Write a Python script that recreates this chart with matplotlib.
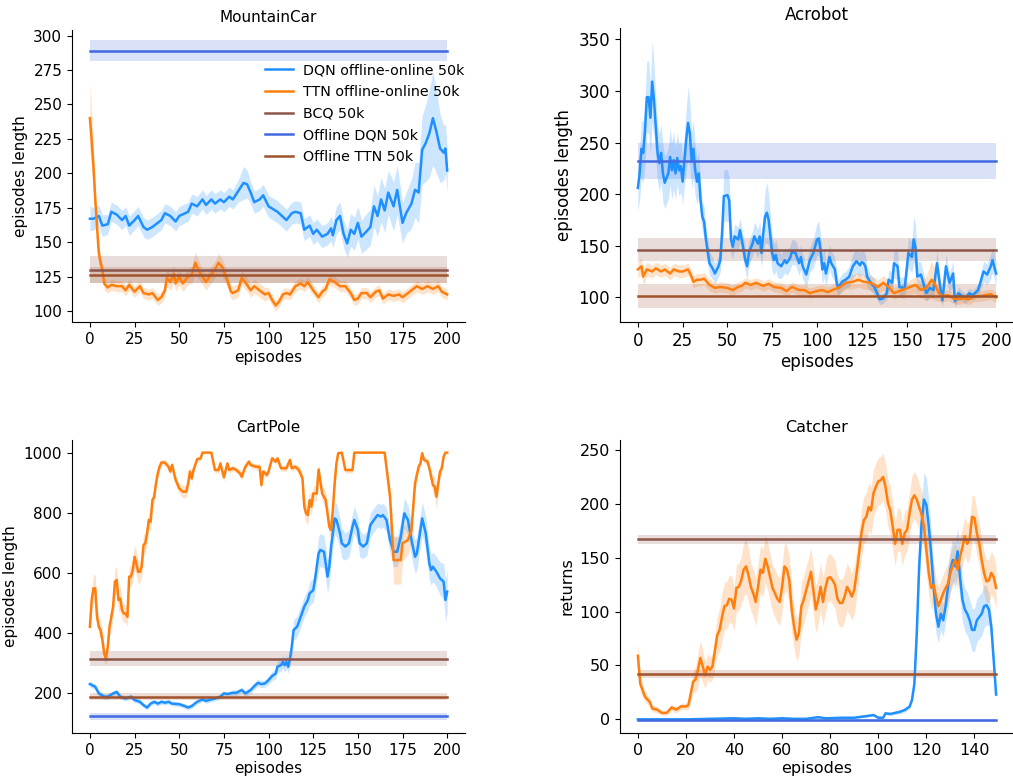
import matplotlib
matplotlib.use('Agg')
import matplotlib.pyplot as plt
import matplotlib.ticker as ticker
import numpy as np

# (episode, mean, spread)
mc_dqn = [(0,167,9),(2,167,8),(5,169,8),(7,162,8),(10,163,7),(12,172,7),(15,170,7),(18,166,7),(20,169,7),(22,162,7),(25,166,7),(27,169,7),(30,161,7),(32,159,7),(35,161,7),(40,166,7),(42,171,7),(45,169,7),(48,165,7),(50,169,7),(55,172,7),(57,178,7),(60,176,7),(63,181,7),(65,177,7),(68,181,7),(70,178,7),(73,181,7),(75,179,7),(78,183,7),(80,181,7),(83,187,8),(86,193,12),(88,192,10),(90,186,8),(92,179,8),(95,181,8),(97,184,8),(100,176,8),(105,172,8),(110,166,8),(113,171,8),(115,172,8),(118,171,8),(120,159,8),(123,162,8),(125,156,8),(127,159,8),(130,154,8),(133,156,8),(135,160,9),(136,155,9),(138,166,10),(140,169,10),(142,156,10),(144,149,10),(146,159,12),(148,156,12),(150,164,12),(152,154,12),(155,158,13),(157,161,13),(159,176,15),(161,169,15),(163,181,16),(165,173,16),(167,186,16),(170,176,18),(172,188,18),(175,164,15),(177,171,15),(180,178,18),(182,188,20),(184,186,22),(186,217,25),(188,222,28),(190,229,32),(192,240,34),(194,230,30),(196,218,25),(198,215,20),(199,218,18),(200,202,16)]
mc_ttn = [(0,240,25),(1,224,20),(2,205,15),(3,181,12),(4,161,10),(5,142,8),(6,135,6),(7,130,5),(8,120,5),(10,117,4),(12,119,4),(15,118,4),(18,118,4),(20,115,4),(22,119,4),(25,114,4),(28,118,4),(30,113,4),(33,112,4),(35,113,4),(38,108,4),(40,110,4),(42,115,5),(43,124,6),(45,121,6),(47,127,6),(48,120,6),(50,125,6),(52,120,6),(55,125,6),(57,126,6),(59,135,8),(60,132,7),(62,127,6),(65,121,6),(67,125,6),(70,130,6),(72,135,7),(74,132,6),(75,129,6),(77,122,5),(79,114,5),(80,113,5),(83,115,5),(85,124,5),(88,119,5),(90,115,5),(92,118,5),(95,115,5),(98,112,5),(100,113,4),(102,108,4),(104,104,4),(106,107,4),(108,112,4),(110,113,4),(112,112,4),(115,118,4),(118,120,4),(120,118,4),(122,121,4),(125,115,4),(128,110,4),(130,114,4),(132,116,4),(134,123,4),(137,121,4),(140,118,4),(143,118,4),(146,113,4),(148,108,4),(150,109,4),(152,113,4),(155,113,4),(157,110,4),(160,114,4),(162,115,4),(164,109,4),(167,112,4),(170,111,4),(173,112,4),(175,110,4),(178,113,4),(180,115,4),(183,118,4),(186,116,4),(189,118,4),(192,116,4),(195,118,4),(197,114,4),(200,112,4)]

ac_dqn = [(0,206,22),(1,220,25),(2,244,28),(3,240,30),(4,262,32),(5,294,35),(6,294,35),(7,274,35),(8,309,40),(9,291,35),(10,265,30),(11,240,28),(12,230,28),(13,240,28),(14,220,28),(15,211,25),(17,220,25),(18,236,28),(19,223,28),(20,233,28),(21,220,25),(22,235,25),(23,223,25),(24,227,25),(25,212,22),(26,233,25),(27,253,30),(28,269,35),(29,259,32),(30,233,28),(31,244,28),(32,223,25),(33,212,22),(34,220,22),(35,194,18),(36,178,15),(37,173,15),(38,156,14),(40,133,12),(42,127,10),(43,123,10),(45,130,10),(46,136,12),(47,162,18),(48,198,25),(50,199,25),(51,194,22),(52,156,15),(53,149,12),(54,159,12),(56,156,12),(57,165,12),(58,156,12),(60,136,12),(61,130,12),(62,143,12),(64,152,12),(65,159,14),(67,152,14),(68,159,14),(69,143,14),(70,162,18),(71,178,25),(72,182,30),(73,175,25),(74,159,20),(75,143,18),(76,136,15),(77,141,15),(78,133,14),(80,130,12),(82,136,12),(83,133,12),(85,138,12),(86,144,12),(88,143,12),(90,133,12),(91,139,12),(92,130,12),(94,122,12),(96,136,12),(98,143,14),(100,156,16),(101,157,16),(102,146,15),(103,127,14),(104,133,14),(105,123,12),(107,139,12),(108,133,12),(110,127,12),(111,114,10),(112,109,8),(114,115,8),(116,117,8),(118,120,10),(120,130,12),(122,135,12),(124,131,12),(125,134,12),(126,133,12),(127,130,12),(128,120,10),(130,114,8),(132,110,8),(134,102,6),(135,98,5),(137,99,5),(139,104,6),(140,117,10),(142,114,10),(143,133,14),(145,130,14),(146,110,10),(149,109,10),(151,143,15),(153,139,15),(154,156,22),(155,148,22),(156,120,15),(158,122,12),(160,110,10),(161,104,8),(163,109,8),(165,107,8),(167,133,12),(169,107,10),(170,97,6),(172,130,12),(174,114,10),(176,123,12),(177,96,6),(179,104,6),(181,101,5),(183,99,5),(185,104,5),(187,102,5),(190,107,6),(193,125,10),(195,122,10),(197,130,12),(198,136,12),(200,123,12)]
ac_ttn = [(0,127,8),(2,130,8),(3,120,8),(5,127,7),(8,125,6),(10,128,6),(13,125,6),(15,127,6),(18,123,6),(20,127,6),(23,125,6),(25,125,6),(28,127,6),(30,120,6),(31,115,6),(33,117,6),(35,117,6),(37,118,6),(40,112,6),(43,109,5),(46,110,5),(50,109,5),(53,107,5),(56,110,5),(58,111,5),(60,114,5),(63,112,5),(66,114,5),(70,111,5),(73,113,5),(76,110,5),(80,109,5),(83,106,5),(86,110,5),(90,107,5),(93,107,5),(96,104,5),(100,106,5),(103,107,5),(106,105,5),(110,108,6),(113,110,6),(116,114,6),(120,115,7),(123,117,7),(126,115,7),(130,114,7),(134,110,7),(137,114,7),(140,110,7),(143,104,6),(146,106,6),(149,108,6),(152,110,7),(155,112,8),(158,107,8),(161,109,12),(164,117,18),(166,112,15),(168,104,8),(170,101,6),(173,102,5),(176,99,5),(179,98,5),(182,99,5),(185,98,5),(188,101,5),(191,101,5),(194,102,5),(197,103,5),(200,100,5)]

cp_dqn = [(0,229,10),(3,220,10),(5,198,10),(8,187,10),(10,187,10),(13,198,8),(15,203,8),(17,187,8),(20,181,8),(23,187,8),(25,176,8),(28,170,8),(30,159,8),(32,151,8),(34,164,8),(36,170,8),(38,164,8),(40,170,8),(42,167,8),(44,170,8),(46,164,8),(50,162,8),(53,156,8),(55,151,8),(57,156,8),(60,170,8),(63,178,8),(65,173,8),(68,178,8),(70,181,8),(73,187,8),(75,198,8),(77,196,8),(80,200,10),(82,200,10),(85,209,10),(87,198,10),(90,209,12),(92,222,12),(94,233,12),(96,229,12),(98,231,12),(100,242,15),(102,256,15),(104,264,18),(105,287,20),(107,292,22),(108,303,22),(109,292,22),(110,303,22),(111,287,22),(112,314,25),(113,353,30),(114,409,35),(116,420,35),(118,453,35),(120,487,35),(122,509,35),(123,531,40),(125,542,40),(126,576,45),(127,620,50),(128,664,55),(129,676,55),(131,670,55),(132,631,55),(133,587,55),(134,620,55),(135,687,55),(136,731,55),(137,781,55),(138,776,55),(140,731,50),(141,698,50),(143,687,45),(145,698,45),(147,753,45),(148,776,45),(150,742,45),(151,698,45),(153,687,40),(155,698,40),(157,759,40),(159,776,40),(161,792,40),(163,787,40),(164,792,40),(166,776,40),(168,709,45),(170,670,50),(172,670,50),(174,720,50),(176,798,50),(178,776,50),(180,709,55),(182,653,55),(183,664,55),(185,742,55),(186,781,55),(188,731,55),(190,631,55),(191,609,50),(192,620,50),(194,603,50),(196,581,55),(198,570,60),(199,509,70),(200,537,70)]
cp_ttn = [(0,420,30),(1,509,40),(2,548,45),(3,548,45),(4,453,35),(5,420,30),(6,409,30),(7,376,30),(8,331,25),(9,314,20),(10,353,25),(11,420,30),(12,453,35),(13,487,40),(14,570,45),(15,576,45),(16,509,40),(17,514,40),(18,476,35),(19,464,30),(20,464,30),(21,453,30),(22,587,35),(23,587,35),(24,609,40),(25,653,40),(26,631,40),(27,603,40),(28,603,35),(29,620,35),(30,692,35),(31,698,35),(32,731,35),(33,776,30),(34,770,30),(35,842,25),(36,853,25),(37,898,20),(38,931,15),(39,953,12),(40,967,10),(42,967,10),(44,953,10),(45,937,12),(46,959,12),(48,909,15),(50,881,18),(52,870,20),(54,870,20),(55,898,18),(56,937,15),(57,914,15),(58,942,12),(60,978,10),(62,981,8),(63,1000,0),(68,1000,0),(70,942,10),(72,942,10),(73,964,10),(75,918,15),(77,964,10),(78,942,10),(80,948,10),(82,942,10),(84,931,12),(85,920,12),(87,953,10),(89,970,10),(90,959,10),(93,953,10),(95,953,10),(96,892,15),(97,937,10),(99,926,12),(100,937,10),(102,981,8),(104,970,8),(105,981,8),(107,948,10),(110,948,10),(112,976,8),(113,948,10),(115,953,10),(117,942,12),(119,914,20),(120,820,30),(121,798,30),(122,792,30),(123,842,30),(124,820,30),(125,864,25),(127,864,25),(128,944,20),(130,864,25),(132,842,30),(134,753,30),(135,742,30),(136,809,30),(137,898,20),(138,964,10),(139,998,5),(141,1000,0),(143,942,10),(147,942,10),(148,1000,0),(165,1000,0),(168,853,40),(170,642,80),(174,642,80),(175,698,60),(178,709,50),(180,742,40),(182,898,25),(184,953,15),(185,964,12),(186,998,8),(187,976,10),(189,970,12),(190,948,15),(192,892,30),(193,887,35),(194,853,40),(195,898,30),(196,937,20),(197,948,15),(198,987,8),(199,1000,0),(200,1000,0)]

ca_dqn = [(0,0,0.5),(10,0,0.5),(20,0,0.5),(30,0.5,0.5),(40,1,0.5),(45,0.5,0.5),(50,1,0.5),(55,0.5,0.5),(60,1,0.5),(65,0.5,0.5),(70,0.5,0.5),(75,2,1),(78,1,0.5),(85,1.5,1),(90,1.5,1),(95,3,1),(98,4,1),(100,1.5,1),(102,1.5,1),(103,5.6,1.5),(105,5,1.5),(107,6,1.5),(109,7,2),(111,8.7,2),(113,11.8,2),(114,18,3),(115,33,5),(116,80,10),(117,142,15),(118,182,20),(119,204,25),(120,199,25),(121,179,25),(122,154,22),(123,123,20),(124,98,18),(125,86,15),(126,98,15),(127,92,15),(128,105,15),(129,123,20),(130,139,20),(131,148,20),(132,142,20),(133,156,22),(134,132,22),(135,111,20),(136,102,20),(137,98,20),(138,92,20),(139,83,20),(140,83,20),(141,92,20),(142,95,20),(143,98,20),(144,105,20),(145,106,18),(146,102,15),(147,86,12),(148,55,8),(149,23,5)]
ca_ttn = [(0,59,12),(1,33,8),(2,27,6),(3,21,5),(5,16,4),(6,10,3),(8,9,3),(10,6,2),(12,6,2),(14,11,3),(16,9,3),(18,12,3),(20,12,3),(21,13,4),(22,24,8),(23,35,10),(24,37,12),(25,46,15),(26,57,16),(27,49,15),(28,41,12),(29,49,12),(30,46,12),(31,49,12),(32,63,15),(33,78,18),(34,83,20),(35,95,22),(36,105,22),(37,106,22),(38,112,22),(39,111,22),(40,103,20),(41,122,22),(42,123,22),(43,129,22),(44,139,25),(45,142,25),(46,134,25),(47,123,22),(48,117,22),(49,109,22),(50,123,22),(51,139,22),(52,136,22),(53,149,22),(54,142,22),(55,132,22),(56,122,22),(57,117,22),(58,112,22),(59,109,22),(60,123,22),(61,142,22),(62,139,22),(63,129,22),(64,102,22),(65,86,20),(66,74,20),(67,80,20),(68,105,22),(69,111,22),(70,120,22),(71,128,22),(72,137,22),(73,120,22),(74,102,22),(75,111,22),(76,123,22),(77,109,22),(78,122,22),(79,131,22),(80,132,22),(81,129,22),(82,125,22),(83,112,22),(84,108,22),(85,108,22),(86,114,22),(87,123,22),(88,119,22),(89,114,22),(90,120,22),(91,136,22),(92,154,22),(93,173,22),(94,185,22),(95,188,22),(96,197,22),(97,194,22),(98,210,22),(99,216,22),(100,221,22),(101,222,22),(102,225,22),(103,216,22),(104,201,22),(105,194,22),(106,179,22),(107,163,20),(108,176,20),(109,176,20),(110,163,20),(111,173,20),(112,176,20),(113,191,20),(114,204,22),(115,208,22),(116,204,22),(117,197,22),(118,190,22),(119,179,22),(120,157,22),(121,136,20),(122,122,20),(123,125,20),(124,114,18),(125,105,18),(126,111,18),(127,117,18),(128,122,18),(129,126,18),(130,136,18),(131,143,18),(132,148,18),(133,139,18),(134,151,18),(135,160,18),(136,170,18),(137,163,18),(138,167,18),(139,188,20),(140,187,20),(141,173,20),(142,163,20),(143,148,20),(144,136,20),(145,128,20),(146,129,20),(147,136,20),(148,132,20),(149,122,20)]

# constant baselines: (mean, spread) -> BCQ, Offline DQN, Offline TTN
mc_base = [(130, 10), (289, 7.5), (126, 6)]
ac_base = [(146, 11), (232, 17.5), (101, 11.5)]
cp_base = [(313, 25), (122, 12), (187, 12)]
ca_base = [(167, 4), (-1, 1), (42, 4)]

titles = ['MountainCar', 'Acrobot', 'CartPole', 'Catcher']
ylabels = ['episodes length', 'episodes length', 'episodes length', 'returns']
legend_names = ['DQN offline-online 50k', 'TTN offline-online 50k', 'BCQ 50k',
                'Offline DQN 50k', 'Offline TTN 50k']
colors = ['#1E90FF', '#FF7F0E', '#8C564B', '#4169E1', '#A0522D']


def draw_panel(ax, dqn, ttn, base, n_ep, fs):
    for data, c, lab in [(dqn, colors[0], legend_names[0]), (ttn, colors[1], legend_names[1])]:
        arr = np.array(data, dtype=float)
        ax.fill_between(arr[:, 0], arr[:, 1] - arr[:, 2], arr[:, 1] + arr[:, 2],
                        color=c, alpha=0.22, linewidth=0)
        ax.plot(arr[:, 0], arr[:, 1], color=c, linewidth=1.8, label=lab)
    xs = np.array([0, n_ep])
    for (m, s), c, lab in zip(base, colors[2:], legend_names[2:]):
        ax.fill_between(xs, [m - s] * 2, [m + s] * 2, color=c, alpha=0.2, linewidth=0)
        ax.plot(xs, [m, m], color=c, linewidth=1.8, label=lab)
    ax.spines['top'].set_visible(False)
    ax.spines['right'].set_visible(False)
    ax.tick_params(labelsize=fs)


def plot():
    fig = plt.figure(figsize=(10.13, 7.78), dpi=100)
    pos = [[0.0711, 0.5861, 0.3880, 0.3753],
           [0.6120, 0.5861, 0.3890, 0.3779],
           [0.0711, 0.0578, 0.3880, 0.3766],
           [0.6120, 0.0578, 0.3890, 0.3766]]
    datasets = [(mc_dqn, mc_ttn, mc_base, 200), (ac_dqn, ac_ttn, ac_base, 200),
                (cp_dqn, cp_ttn, cp_base, 200), (ca_dqn, ca_ttn, ca_base, 149)]
    ylims = [(92, 304), (76, 361), (66, 1042), (-12.7, 259.3)]
    sizes = [11, 12, 11, 11.5]
    steps = [25, 25, 25, 20]
    for i in range(4):
        ax = fig.add_axes(pos[i])
        dqn, ttn, base, n_ep = datasets[i]
        draw_panel(ax, dqn, ttn, base, n_ep, sizes[i])
        ax.set_ylim(ylims[i])
        ax.set_xlim(-0.05 * n_ep, 1.05 * n_ep)
        ax.xaxis.set_major_locator(ticker.MultipleLocator(steps[i]))
        ax.set_title(titles[i], fontsize=sizes[i])
        ax.set_xlabel('episodes', fontsize=sizes[i], labelpad=2)
        ax.set_ylabel(ylabels[i], fontsize=sizes[i])
        if i == 0:
            ax.legend(loc='upper left', bbox_to_anchor=(0.476, 0.905), frameon=False,
                      fontsize=10.3, labelspacing=0.53, handletextpad=0.7,
                      borderaxespad=0)
    plt.savefig('out.png', dpi=100)


if __name__ == '__main__':
    plot()
